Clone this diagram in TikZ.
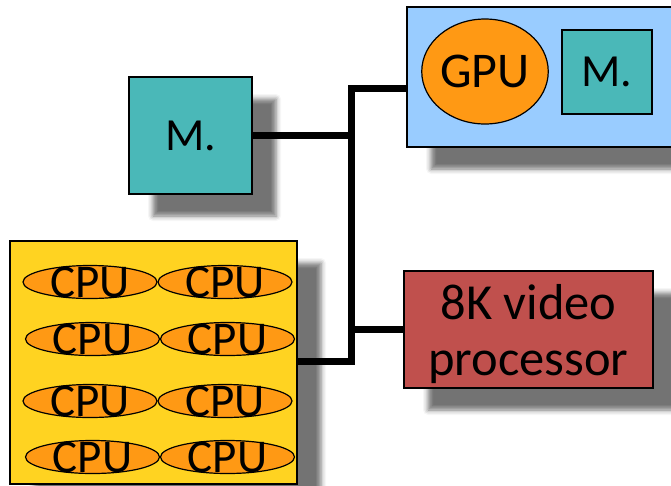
\documentclass[tikz,border=0pt]{standalone}
\usepackage{fontspec}
\setmainfont{Carlito}
\usetikzlibrary{shapes.geometric,shadows.blur}
\definecolor{memteal}{HTML}{4AB8B8}
\definecolor{boardyellow}{HTML}{FFD321}
\definecolor{coreorange}{HTML}{FF9914}
\definecolor{gpublue}{HTML}{99CCFF}
\definecolor{videored}{HTML}{C0504D}
\begin{document}
\begin{tikzpicture}[x=1pt,y=-1pt,
  box/.style={draw=black, line width=1.2pt, inner sep=0pt},
  shadowed/.style={blur shadow={shadow xshift=24pt, shadow yshift=-22pt,
      shadow blur radius=5pt, shadow opacity=55}},
  mem/.style={box, fill=memteal, font=\fontsize{46}{50}\selectfont},
  core/.style={draw=black, line width=1.2pt, ellipse, fill=coreorange,
      minimum width=134pt, minimum height=33pt, inner sep=0pt},
  coretext/.style={font=\fontsize{47}{50}\selectfont, inner sep=0pt},
  videotext/.style={font=\fontsize{50.5}{56}\selectfont, align=center, inner sep=0pt, yshift=-5pt},
  bus/.style={line width=7pt}
]
\useasboundingbox (0,0) rectangle (671,485);
\clip (0,0) rectangle (671,485);

% main memory
\node[mem, shadowed, minimum width=123pt, minimum height=117pt] (mL) at (190.5,135.5) {M.};

% CPU board with eight cores
\node[box, shadowed, fill=boardyellow, minimum width=287pt, minimum height=243pt] (cpuboard) at (153.5,362.5) {};
\foreach \r/\y/\dx in {1/282/0, 2/339/2.5, 3/401/0, 4/457/2.5} {
  \node[core, label={[coretext]center:CPU}] (c\r a) at (90+\dx,\y) {};
  \node[core, label={[coretext]center:CPU}] (c\r b) at (225+\dx,\y) {};
}

% GPU card with its own memory
\node[box, shadowed, fill=gpublue, minimum width=293pt, minimum height=140pt] (gpuboard) at (553.5,77) {};
\node[box, ellipse, fill=coreorange, minimum width=124pt, minimum height=105pt,
      font=\fontsize{50}{52}\selectfont] (gpu) at (485,71.5) {GPU};
\node[mem, minimum width=90pt, minimum height=84pt] (mG) at (607,72) {M.};

% video processor
\node[box, shadowed, fill=videored, minimum width=249pt, minimum height=117pt,
      label={[videotext]center:8K video\hspace{11pt}\\processor}] (video) at (528.5,329.5) {};

% system bus
\coordinate (busTop) at (351,88);
\coordinate (busBot) at (351,361);
\draw[bus, line join=miter] (busTop -| gpuboard.west) -- (busTop) -- (busBot) -- (busBot -| cpuboard.east);
\draw[bus] (mL.east) -- (mL.east -| busTop);
\draw[bus] (video.west) -- (video.west -| busTop);
\end{tikzpicture}
\end{document}
